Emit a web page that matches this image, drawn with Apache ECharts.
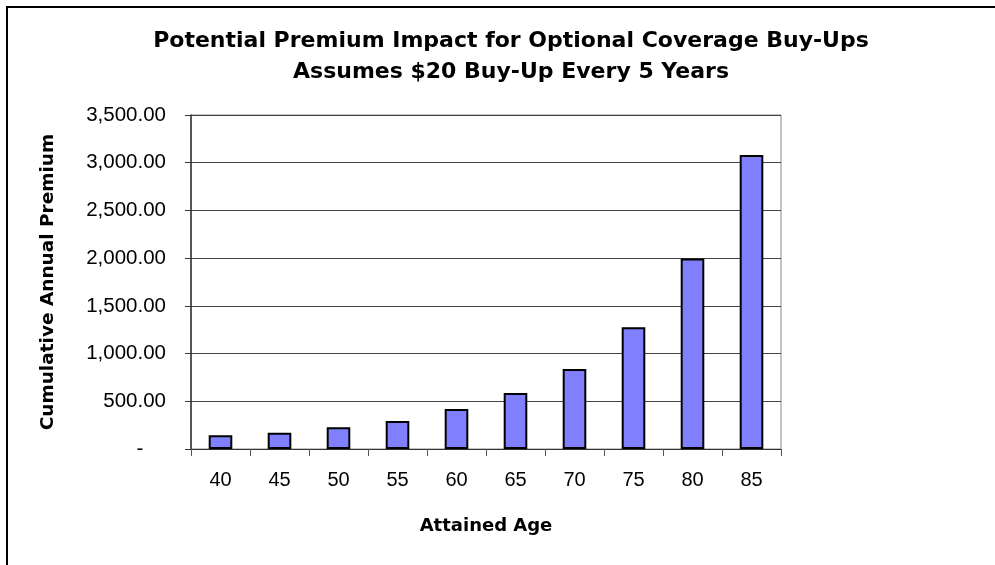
<!DOCTYPE html>
<html>
<head>
<meta charset="utf-8">
<script src="https://cdn.jsdelivr.net/npm/echarts@6/dist/echarts.min.js"></script>
<style>html,body{margin:0;padding:0;background:#fff}#c{width:995px;height:565px}</style>
</head>
<body>
<div id="c"></div>
<script>
var titleLines = ["Potential Premium Impact for Optional Coverage Buy-Ups", "Assumes $20 Buy-Up Every 5 Years"];
var ages = ["40", "45", "50", "55", "60", "65", "70", "75", "80", "85"];
var premiums = [143, 171, 227, 294, 420, 587, 839, 1275, 1995, 3082];
var xAxisName = "Attained Age";
var yAxisName = "Cumulative Annual Premium";
var yMax = 3500, yStep = 500;

var chart = echarts.init(document.getElementById('c'));
var F = "'Liberation Sans', Arial, sans-serif";
var FB = "'DejaVu Sans', 'Liberation Sans', sans-serif";
chart.setOption({
  animation: false,
  backgroundColor: '#fff',
  title: {
    text: titleLines.join('\n'),
    left: 506, top: 21, textAlign: 'center',
    textStyle: {fontFamily: FB, fontSize: 22, fontWeight: 'bold', color: '#000', lineHeight: 31}
  },
  graphic: [{
    type: 'polyline', silent: true,
    shape: {points: [[7, 600], [7, 7], [1100, 7]]},
    style: {stroke: '#000', lineWidth: 2, fill: null}
  }],
  grid: {left: 191, right: 214, top: 115, bottom: 116, show: true, borderColor: '#888', borderWidth: 1, backgroundColor: 'transparent'},
  xAxis: {
    type: 'category', data: ages, boundaryGap: true,
    name: xAxisName, nameLocation: 'middle', nameGap: 68,
    nameTextStyle: {fontFamily: FB, fontSize: 18, fontWeight: 'bold', color: '#000'},
    axisLine: {lineStyle: {color: '#333', width: 1}},
    axisTick: {show: true, inside: false, length: 7, interval: 0, lineStyle: {color: '#555'}},
    axisLabel: {fontFamily: F, fontSize: 20, color: '#000', margin: 21, interval: 0}
  },
  yAxis: {
    type: 'value', min: 0, max: yMax, interval: yStep,
    name: yAxisName, nameLocation: 'middle', nameGap: 133, nameRotate: 90,
    nameTextStyle: {fontFamily: FB, fontSize: 18.5, fontWeight: 'bold', color: '#000'},
    axisLine: {show: true, lineStyle: {color: '#333', width: 1.5}},
    axisTick: {show: true, length: 6, lineStyle: {color: '#333'}},
    splitLine: {show: true, lineStyle: {color: '#444', width: 1}},
    axisLabel: {
      fontFamily: F, fontSize: 20.5, color: '#000', margin: 25,
      formatter: function (v) {
        if (v === 0) return '-    ';
        return v.toLocaleString('en-US', {minimumFractionDigits: 2, maximumFractionDigits: 2});
      }
    }
  },
  series: [{
    type: 'bar', data: premiums, barWidth: '40%',
    itemStyle: {color: '#8080FF', borderColor: '#000', borderWidth: 2}
  }]
});
</script>
</body>
</html>
